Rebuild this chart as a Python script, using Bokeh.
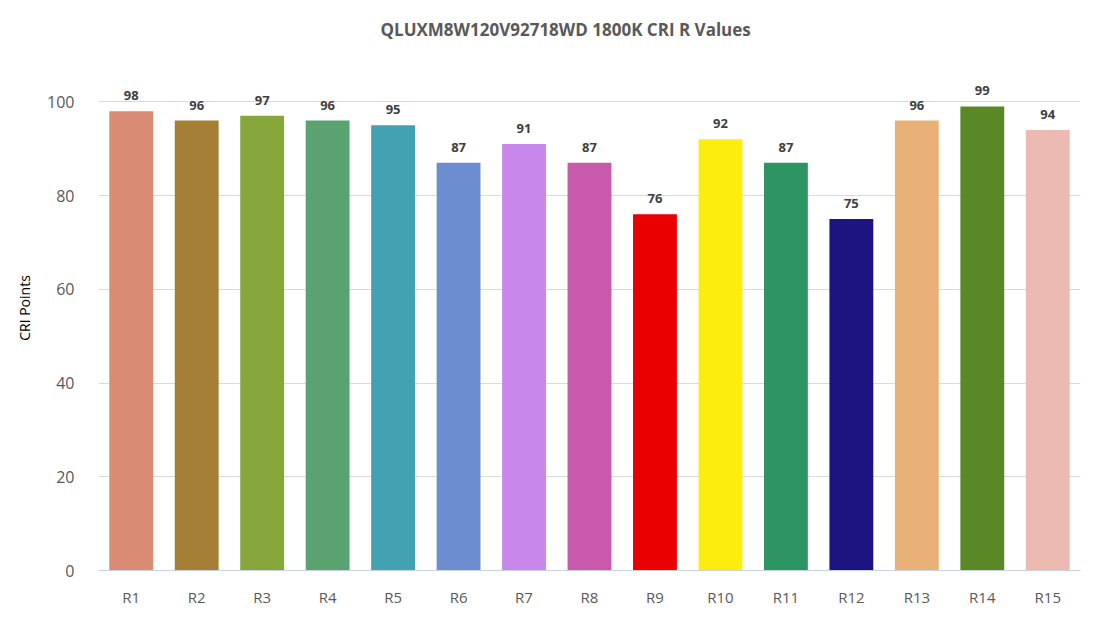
from bokeh.plotting import figure
from bokeh.models import ColumnDataSource, Range1d, LabelSet, FixedTicker
from bokeh.core.properties import value
from bokeh.embed import file_html
from bokeh.resources import INLINE

categories = ["R1", "R2", "R3", "R4", "R5", "R6", "R7", "R8", "R9", "R10", "R11", "R12", "R13", "R14", "R15"]
values = [98, 96, 97, 96, 95, 87, 91, 87, 76, 92, 87, 75, 96, 99, 94]
colors = ["#d98b73", "#a57f35", "#86a73b", "#5ba271", "#42a2b1", "#6c8ed1", "#c887eb",
          "#c959aa", "#ea0000", "#fded0e", "#2d9561", "#1c1581", "#e8b178", "#5a8826", "#ecbab0"]
y_ticks = [0, 20, 40, 60, 80, 100]
title_text = "QLUXM8W120V92718WD 1800K CRI R Values"
y_label = "CRI Points"

src = ColumnDataSource(dict(cat=categories, val=values, col=colors,
                            lab=[str(v) for v in values]))

FONT = "Open Sans"

p = figure(x_range=categories, y_range=Range1d(0, 112), width=1090, height=609,
           output_backend="svg", toolbar_location=None, title=title_text,
           min_border_left=98, min_border_right=10, min_border_top=45, min_border_bottom=39)

p.vbar(x="cat", top="val", width=0.67, color="col", source=src, line_color=None)

labels = LabelSet(x="cat", y="val", text="lab", source=src, text_align="center",
                  text_baseline="bottom", y_offset=11, text_font=value(FONT),
                  text_font_size="13px", text_font_style="bold", text_color="#404040")
p.add_layout(labels)

p.title.align = "left"
p.title.offset = 282
p.title.text_font = FONT
p.title.text_font_size = "17px"
p.title.text_font_style = "bold"
p.title.text_color = "#595959"
p.title.standoff = 9

p.outline_line_color = None
p.background_fill_color = "white"
p.border_fill_color = "white"

p.xgrid.grid_line_color = None
p.ygrid.grid_line_color = "#d9d9d9"
p.ygrid.grid_line_width = 1

p.yaxis.ticker = FixedTicker(ticks=y_ticks)
p.yaxis.axis_line_color = None
p.yaxis.major_tick_line_color = None
p.yaxis.minor_tick_line_color = None
p.yaxis.major_label_standoff = 18
p.yaxis.major_label_text_font = FONT
p.yaxis.major_label_text_font_size = "16px"
p.yaxis.major_label_text_color = "#595959"
p.yaxis.axis_label = y_label
p.yaxis.axis_label_text_font = FONT
p.yaxis.axis_label_text_font_size = "14px"
p.yaxis.axis_label_text_font_style = "normal"
p.yaxis.axis_label_text_color = "#000000"
p.yaxis.axis_label_standoff = 10

p.xaxis.axis_line_color = "#c9d3e6"
p.xaxis.axis_line_width = 1
p.xaxis.major_tick_line_color = None
p.xaxis.minor_tick_line_color = None
p.xaxis.major_label_standoff = 10
p.xaxis.major_label_text_font = FONT
p.xaxis.major_label_text_font_size = "15px"
p.xaxis.major_label_text_color = "#595959"

open("out.html", "w").write(file_html(p, INLINE))
